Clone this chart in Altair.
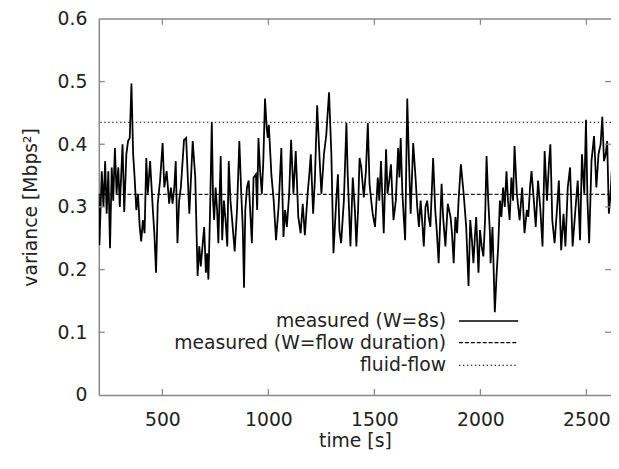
import altair as alt
import pandas as pd

# ---- data ----
time_s = [200, 203, 214, 222, 230, 237, 245, 253, 261, 268, 276, 284, 292, 299, 312, 320, 330, 338, 346, 354,
          362, 369, 377, 385, 393, 400, 408, 416, 424, 431, 442, 455, 462, 470, 478, 489, 501, 509, 520, 532,
          540, 548, 556, 563, 571, 579, 587, 602, 612, 627, 643, 655, 666, 674, 681, 689, 697, 705, 711, 717,
          725, 733, 739, 744, 751, 758, 764, 775, 782, 790, 798, 806, 813, 821, 829, 841, 852, 863, 872, 879,
          885, 891, 899, 907, 914, 922, 930, 941, 947, 953, 961, 969, 976, 984, 992, 997, 1002, 1014, 1025, 1036,
          1048, 1061, 1071, 1079, 1087, 1098, 1107, 1118, 1129, 1141, 1152, 1162, 1172, 1185, 1193, 1200, 1211, 1219, 1230, 1242,
          1250, 1262, 1273, 1286, 1297, 1307, 1320, 1328, 1335, 1343, 1356, 1368, 1374, 1387, 1398, 1408, 1415, 1423, 1430, 1438,
          1450, 1460, 1469, 1477, 1485, 1492, 1503, 1516, 1523, 1531, 1544, 1555, 1562, 1570, 1578, 1590, 1601, 1612, 1618, 1624,
          1632, 1645, 1655, 1663, 1671, 1683, 1694, 1702, 1710, 1718, 1725, 1733, 1741, 1749, 1756, 1764, 1777, 1787, 1795, 1803,
          1811, 1817, 1824, 1835, 1846, 1859, 1866, 1874, 1882, 1890, 1897, 1908, 1921, 1933, 1944, 1952, 1960, 1967, 1975, 1980,
          1991, 1998, 2006, 2014, 2022, 2029, 2037, 2045, 2048, 2057, 2068, 2076, 2084, 2092, 2099, 2107, 2115, 2123, 2130, 2138,
          2146, 2154, 2161, 2172, 2185, 2197, 2208, 2219, 2226, 2234, 2241, 2252, 2261, 2272, 2283, 2293, 2303, 2314, 2324, 2330,
          2339, 2350, 2361, 2370, 2381, 2392, 2401, 2412, 2423, 2435, 2448, 2459, 2470, 2479, 2490, 2498, 2505, 2513, 2524, 2536,
          2547, 2557, 2567, 2575, 2583, 2591, 2598, 2606, 2614, 2620]

variance = [0.320, 0.239, 0.357, 0.300, 0.373, 0.289, 0.357, 0.234, 0.363, 0.310, 0.394, 0.321, 0.363, 0.300, 0.400, 0.292, 0.384, 0.405, 0.410, 0.497,
            0.384, 0.347, 0.295, 0.321, 0.268, 0.245, 0.279, 0.258, 0.378, 0.321, 0.373, 0.295, 0.258, 0.195, 0.305, 0.342, 0.402, 0.331, 0.357, 0.305,
            0.331, 0.305, 0.331, 0.373, 0.242, 0.310, 0.331, 0.407, 0.410, 0.289, 0.405, 0.347, 0.190, 0.237, 0.205, 0.237, 0.268, 0.195, 0.226, 0.184,
            0.295, 0.435, 0.310, 0.279, 0.331, 0.295, 0.242, 0.381, 0.247, 0.310, 0.279, 0.237, 0.373, 0.310, 0.279, 0.229, 0.295, 0.405, 0.321, 0.268,
            0.171, 0.295, 0.331, 0.342, 0.295, 0.242, 0.347, 0.352, 0.295, 0.410, 0.357, 0.321, 0.373, 0.473, 0.426, 0.410, 0.431, 0.352, 0.310, 0.247,
            0.300, 0.394, 0.252, 0.295, 0.268, 0.321, 0.407, 0.321, 0.389, 0.284, 0.258, 0.305, 0.255, 0.321, 0.352, 0.384, 0.289, 0.342, 0.462, 0.373,
            0.321, 0.384, 0.415, 0.483, 0.384, 0.226, 0.310, 0.352, 0.263, 0.242, 0.310, 0.434, 0.352, 0.237, 0.347, 0.295, 0.237, 0.295, 0.378, 0.363,
            0.315, 0.357, 0.434, 0.337, 0.310, 0.289, 0.268, 0.347, 0.310, 0.373, 0.258, 0.392, 0.321, 0.342, 0.368, 0.279, 0.310, 0.394, 0.347, 0.410,
            0.321, 0.247, 0.473, 0.373, 0.289, 0.402, 0.347, 0.300, 0.268, 0.310, 0.279, 0.237, 0.300, 0.310, 0.284, 0.268, 0.378, 0.295, 0.258, 0.210,
            0.284, 0.337, 0.284, 0.237, 0.305, 0.284, 0.258, 0.210, 0.284, 0.258, 0.310, 0.368, 0.321, 0.268, 0.174, 0.279, 0.247, 0.210, 0.258, 0.284,
            0.195, 0.263, 0.237, 0.221, 0.279, 0.381, 0.310, 0.258, 0.210, 0.268, 0.132, 0.190, 0.237, 0.310, 0.284, 0.331, 0.300, 0.357, 0.310, 0.279,
            0.347, 0.310, 0.397, 0.321, 0.279, 0.331, 0.258, 0.295, 0.284, 0.331, 0.357, 0.310, 0.268, 0.342, 0.295, 0.237, 0.389, 0.310, 0.373, 0.400,
            0.279, 0.242, 0.295, 0.342, 0.231, 0.289, 0.237, 0.331, 0.363, 0.237, 0.295, 0.342, 0.247, 0.384, 0.321, 0.439, 0.310, 0.242, 0.373, 0.413,
            0.331, 0.384, 0.400, 0.444, 0.373, 0.384, 0.405, 0.289, 0.321, 0.360]

flow_duration_variance = 0.32
fluid_flow_variance = 0.435

x_ticks = [500, 1000, 1500, 2000, 2500]
y_ticks = [0, 0.1, 0.2, 0.3, 0.4, 0.5, 0.6]
y_inner_ticks = [0.1, 0.2, 0.3, 0.4, 0.5]
legend_labels = ["measured (W=8s)", "measured (W=flow duration)", "fluid-flow"]

# ---- layout / style ----
W, H = 519, 381
FONT = "DejaVu Sans"
FS = 19
FRAME = "#888888"
TXT = "#222222"
TICK = 6

series = pd.DataFrame({"t": time_s, "v": variance})

xscale = alt.Scale(domain=[200, 2616], nice=False, zero=False)
yscale = alt.Scale(domain=[0, 0.6], nice=False, zero=False)

line = alt.Chart(series).mark_line(color="black", strokeWidth=1.8, clip=True).encode(
    x=alt.X("t:Q", scale=xscale,
            axis=alt.Axis(values=x_ticks, format="d", title="time [s]", ticks=False, tickSize=0,
                          labelPadding=16, titlePadding=2, grid=False)),
    y=alt.Y("v:Q", scale=yscale,
            axis=alt.Axis(values=y_ticks, format="~g", title="variance [Mbps²]", ticks=False,
                          tickSize=0, labelPadding=12, titlePadding=17, grid=False)),
)

flow_rule = alt.Chart(pd.DataFrame({"v": [flow_duration_variance]})).mark_rule(
    color="#222222", strokeWidth=1.1, strokeDash=[4, 2]).encode(y=alt.Y("v:Q", scale=yscale))
fluid_rule = alt.Chart(pd.DataFrame({"v": [fluid_flow_variance]})).mark_rule(
    color="#111111", strokeWidth=1.1, strokeDash=[1.5, 2.5]).encode(y=alt.Y("v:Q", scale=yscale))

xt = pd.DataFrame({"t": x_ticks})
yt = pd.DataFrame({"v": y_inner_ticks})
bottom_ticks = alt.Chart(xt).mark_rule(color=FRAME, strokeWidth=1.3).encode(
    x=alt.X("t:Q", scale=xscale), y=alt.value(H), y2=alt.value(H - TICK))
top_ticks = alt.Chart(xt).mark_rule(color=FRAME, strokeWidth=1.3).encode(
    x=alt.X("t:Q", scale=xscale), y=alt.value(0), y2=alt.value(TICK))
left_ticks = alt.Chart(yt).mark_rule(color=FRAME, strokeWidth=1.3).encode(
    y=alt.Y("v:Q", scale=yscale), x=alt.value(0), x2=alt.value(TICK))
right_ticks = alt.Chart(yt).mark_rule(color=FRAME, strokeWidth=1.3).encode(
    y=alt.Y("v:Q", scale=yscale), x=alt.value(W), x2=alt.value(W - TICK))
top_border = alt.Chart(pd.DataFrame({"k": [0]})).mark_rule(color=FRAME, strokeWidth=1.5).encode(
    x=alt.value(0), x2=alt.value(W), y=alt.value(0))

# manual gnuplot-style legend (label then sample)
LX_TEXT, LX0, LX1 = 352, 365, 425
ROWS = [306, 328, 351]
legend_layers = []
dashes = [None, [4, 2], [1.5, 2.5]]
for lab, ry, dash in zip(legend_labels, ROWS, dashes):
    legend_layers.append(
        alt.Chart(pd.DataFrame({"label": [lab]})).mark_text(
            align="right", baseline="middle", font=FONT, fontSize=FS, color=TXT).encode(
            x=alt.value(LX_TEXT), y=alt.value(ry), text="label:N"))
    kw = dict(color="black", strokeWidth=1.5)
    if dash:
        kw["strokeDash"] = dash
        kw["strokeWidth"] = 1.1
    legend_layers.append(
        alt.Chart(pd.DataFrame({"label": [lab]})).mark_rule(**kw).encode(
            x=alt.value(LX0), x2=alt.value(LX1), y=alt.value(ry)))

chart = alt.layer(
    flow_rule, fluid_rule, line, bottom_ticks, top_ticks, left_ticks, right_ticks, top_border,
    *legend_layers
).properties(
    width=W, height=H,
    autosize=alt.AutoSizeParams(type="none"),
    padding={"left": 92, "top": 8, "right": 0, "bottom": 70},
).configure_view(stroke=None).configure_axis(
    domainColor=FRAME, domainWidth=1.5,
    labelFont=FONT, labelFontSize=FS, labelColor=TXT,
    titleFont=FONT, titleFontSize=FS, titleColor=TXT, titleFontWeight="normal",
)

chart.save("out.html", embed_options={"renderer": "svg", "actions": False})
